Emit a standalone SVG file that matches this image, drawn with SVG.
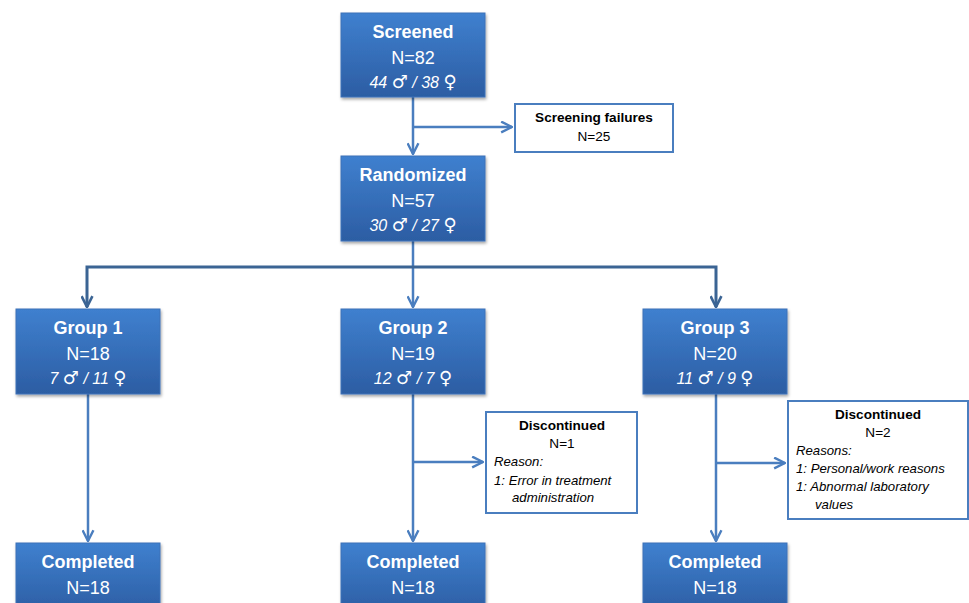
<svg xmlns="http://www.w3.org/2000/svg" width="969" height="603" viewBox="0 0 969 603">
<style>
.t{font-family:"Liberation Sans",Arial,sans-serif;fill:#fff;text-anchor:middle}
.h{font-size:18px;font-weight:bold}
.n{font-size:18px}
.g{font-size:16px;font-style:italic}
.sym{font-family:"DejaVu Sans",sans-serif;font-style:normal;font-size:18px}
.bx{fill:url(#grad);stroke:#3c72b8;stroke-width:1}
.wb{fill:#fff;stroke:#4a7ebf;stroke-width:2}
.k{font-family:"Liberation Sans",Arial,sans-serif;fill:#000;font-size:13.6px}
.kb{font-weight:bold;text-anchor:middle}
.kc{text-anchor:middle}
.ki{font-style:italic;font-size:13.2px}
.ln{fill:none;stroke:#4a7ebf;stroke-width:2.5}
.ld{fill:none;stroke:#3b6494;stroke-width:3}
</style>
<defs>
<linearGradient id="grad" x1="0" y1="0" x2="0" y2="1">
<stop offset="0" stop-color="#3f80cf"/>
<stop offset="1" stop-color="#2c5da3"/>
</linearGradient>
<filter id="sh" x="-10%" y="-10%" width="130%" height="130%">
<feDropShadow dx="1" dy="2" stdDeviation="1.5" flood-color="#000" flood-opacity="0.35"/>
</filter>
<marker id="a" viewBox="0 0 12 12" refX="11" refY="6" markerWidth="13" markerHeight="13" orient="auto" markerUnits="userSpaceOnUse">
<path d="M1,1 L11,6 L1,11" fill="none" stroke="#4a7ebf" stroke-width="2.2"/>
</marker>
<marker id="ad" viewBox="0 0 12 12" refX="11" refY="6" markerWidth="13" markerHeight="13" orient="auto" markerUnits="userSpaceOnUse">
<path d="M1,1 L11,6 L1,11" fill="none" stroke="#3b6494" stroke-width="2.4"/>
</marker>
</defs>

<g id="connectors">
<path class="ln" d="M413,97 V154" marker-end="url(#a)"/>
<path class="ln" d="M413,127 H512" marker-end="url(#a)"/>
<path class="ln" d="M413,241 V307" marker-end="url(#a)"/>
<path class="ld" d="M413,267 H87 V307" marker-end="url(#ad)"/>
<path class="ld" d="M413,267 H716 V307" marker-end="url(#ad)"/>
<path class="ln" d="M88,394 V541" marker-end="url(#a)"/>
<path class="ln" d="M413,394 V541" marker-end="url(#a)"/>
<path class="ln" d="M413,462 H483" marker-end="url(#a)"/>
<path class="ln" d="M716,394 V541" marker-end="url(#a)"/>
<path class="ln" d="M716,463 H785" marker-end="url(#a)"/>
</g>

<g id="screened">
<rect class="bx" x="341" y="13" width="144" height="84" filter="url(#sh)"/>
<text class="t h" x="413" y="38">Screened</text>
<text class="t n" x="413" y="64">N=82</text>
<text class="t g" x="413" y="88">44 <tspan class="sym">♂</tspan> / 38 <tspan class="sym">♀</tspan></text>
</g>

<g id="screening-failures">
<rect class="wb" x="515" y="104" width="158" height="48"/>
<text class="k kb" x="594" y="122">Screening failures</text>
<text class="k kc" x="594" y="141">N=25</text>
</g>

<g id="randomized">
<rect class="bx" x="341" y="156" width="144" height="85" filter="url(#sh)"/>
<text class="t h" x="413" y="181">Randomized</text>
<text class="t n" x="413" y="207">N=57</text>
<text class="t g" x="413" y="231">30 <tspan class="sym">♂</tspan> / 27 <tspan class="sym">♀</tspan></text>
</g>

<g id="group1">
<rect class="bx" x="16" y="309" width="144" height="85" filter="url(#sh)"/>
<text class="t h" x="88" y="334">Group 1</text>
<text class="t n" x="88" y="360">N=18</text>
<text class="t g" x="88" y="384">7 <tspan class="sym">♂</tspan> / 11 <tspan class="sym">♀</tspan></text>
</g>

<g id="group2">
<rect class="bx" x="341" y="309" width="144" height="85" filter="url(#sh)"/>
<text class="t h" x="413" y="334">Group 2</text>
<text class="t n" x="413" y="360">N=19</text>
<text class="t g" x="413" y="384">12 <tspan class="sym">♂</tspan> / 7 <tspan class="sym">♀</tspan></text>
</g>

<g id="group3">
<rect class="bx" x="643" y="309" width="144" height="85" filter="url(#sh)"/>
<text class="t h" x="715" y="334">Group 3</text>
<text class="t n" x="715" y="360">N=20</text>
<text class="t g" x="715" y="384">11 <tspan class="sym">♂</tspan> / 9 <tspan class="sym">♀</tspan></text>
</g>

<g id="discontinued2">
<rect class="wb" x="486" y="412" width="151" height="101"/>
<text class="k kb" x="562" y="430">Discontinued</text>
<text class="k kc" x="562" y="448">N=1</text>
<text class="k ki" x="494" y="466">Reason:</text>
<text class="k ki" x="494" y="485">1: Error in treatment</text>
<text class="k ki" x="512" y="502">administration</text>
</g>

<g id="discontinued3">
<rect class="wb" x="788" y="401" width="180" height="118"/>
<text class="k kb" x="878" y="419">Discontinued</text>
<text class="k kc" x="878" y="437">N=2</text>
<text class="k ki" x="796" y="455">Reasons:</text>
<text class="k ki" x="796" y="473">1: Personal/work reasons</text>
<text class="k ki" x="796" y="491">1: Abnormal laboratory</text>
<text class="k ki" x="815" y="509">values</text>
</g>

<g id="completed1">
<rect class="bx" x="16" y="543" width="144" height="70" filter="url(#sh)"/>
<text class="t h" x="88" y="568">Completed</text>
<text class="t n" x="88" y="594">N=18</text>
</g>

<g id="completed2">
<rect class="bx" x="341" y="543" width="144" height="70" filter="url(#sh)"/>
<text class="t h" x="413" y="568">Completed</text>
<text class="t n" x="413" y="594">N=18</text>
</g>

<g id="completed3">
<rect class="bx" x="643" y="543" width="144" height="70" filter="url(#sh)"/>
<text class="t h" x="715" y="568">Completed</text>
<text class="t n" x="715" y="594">N=18</text>
</g>
</svg>
